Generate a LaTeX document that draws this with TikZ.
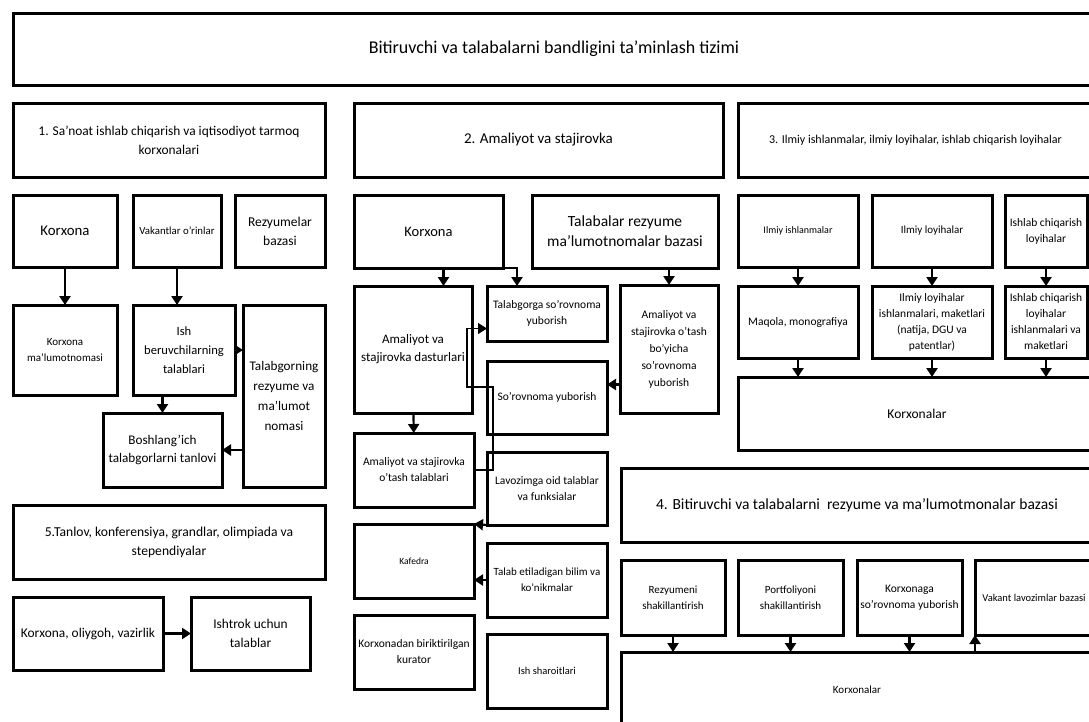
\documentclass[tikz,border=0pt]{standalone}
\usepackage{fontspec}
\setmainfont{Carlito}
\usetikzlibrary{positioning}
\usetikzlibrary{arrows.meta}
\tikzset{
  box/.style={draw, line width=3pt, align=center, inner sep=2pt, outer sep=0pt, anchor=north west},
  wh/.style 2 args={minimum width=#1pt, minimum height=#2pt},
  fsz/.style 2 args={font=\fontsize{#1}{#2}\selectfont},
  arr/.style={line width=2.2pt, -{Triangle[width=11pt,length=9pt]}},
}
\begin{document}
\begin{tikzpicture}[x=1pt, y=-1pt]
    \useasboundingbox (0,0) rectangle (1089,721);
    \clip (0,0) rectangle (1089,721);
    \node[box, wh={1082}{72}, fsz={18}{22}] (t0) at (13,13) {Bitiruvchi va talabalarni bandligini ta'minlash tizimi};
    % 1
    \node[box, wh={312}{74}, fsz={13.4}{19}] (h1) at (13,103) {1. Sa'noat ishlab chiqarish va iqtisodiyot tarmoq\\korxonalari};
    \node[box, wh={104}{72}, fsz={14.8}{19}, below right=18pt and 0pt of h1.south west] (k1) {Korxona};
    \node[box, wh={88}{72}, fsz={10.8}{15}, below right=0pt and 16pt of k1.north east] (v1) {Vakantlar o'rinlar};
    \node[box, wh={90}{72}, fsz={13.5}{19}, below right=0pt and 14pt of v1.north east] (r1) {Rezyumelar\\bazasi};
    \node[box, wh={104}{90}, fsz={11}{16}, below right=38pt and 0pt of k1.south west] (m1) {Korxona\\ma'lumotnomasi};
    \node[box, wh={102}{90}, fsz={12.6}{19}, below right=38pt and 0pt of v1.south west] (i1) {Ish\\beruvchilarning\\talablari};
    \node[box, wh={82}{182}, fsz={13.2}{20}, below right=0pt and 8pt of i1.north east] (t1) {Talabgorning\\rezyume va\\ma'lumot\\nomasi};
    \node[box, wh={119}{74}, fsz={13.2}{18}, below right=18pt and -30pt of i1.south west] (b1) {Boshlang'ich\\talabgorlarni tanlovi};
    \path[draw, arr] (k1) -- (m1);
    \path[draw, arr] (v1.south) -- (v1.south |- i1.north);
    \path[draw, arr] (i1.east) -- (i1.east -| t1.west);
    \path[draw, arr] (b1.north |- i1.south) -- (b1.north);
    \path[draw, arr] (t1.west |- b1.east) -- (b1.east);
    % 5
    \node[box, wh={312}{74}, fsz={13.6}{19}] (h5) at (13,505) {5.Tanlov, konferensiya, grandlar, olimpiada va\\stependiyalar};
    \node[box, wh={150}{73}, fsz={13.4}{18}, below right=18pt and 0pt of h5.south west] (k5) {Korxona, oliygoh, vazirlik};
    \node[box, wh={119}{73}, fsz={13.4}{19}, below right=0pt and 28pt of k5.north east] (i5) {Ishtrok uchun\\talablar};
    \path[draw, arr] (k5) -- (i5);
    % 2
    \node[box, wh={369}{74}, fsz={15}{19}] (h2) at (354,103) {2. Amaliyot va stajirovka};
    \node[box, wh={149}{73}, fsz={14.5}{18}, below right=18pt and 0pt of h2.south west] (k2) {Korxona};
    \node[box, wh={186}{73}, fsz={15.5}{20}, below right=0pt and 29pt of k2.north east] (tr2) {Talabalar rezyume\\ma'lumotnomalar bazasi};
    \node[box, wh={118}{127}, fsz={13}{18}, below right=18pt and 0pt of k2.south west] (d2) {Amaliyot va\\stajirovka dasturlari};
    \node[box, wh={120}{55}, fsz={11.5}{16}, below right=0pt and 15pt of d2.north east] (tg2) {Talabgorga so'rovnoma\\yuborish};
    \node[box, wh={98}{128}, fsz={11.5}{17}, below left=17pt and 0pt of tr2.south east] (ob2) {Amaliyot va\\stajirovka o'tash\\bo'yicha\\so'rovnoma\\yuborish};
    \node[box, wh={120}{73}, fsz={11.5}{16}, below right=20pt and 0pt of tg2.south west] (sy2) {So'rovnoma yuborish};
    \node[box, wh={120}{74}, fsz={11.5}{16}, below right=20pt and 0pt of d2.south west] (ot2) {Amaliyot va stajirovka\\o'tash talablari};
    \node[box, wh={120}{73}, fsz={11.5}{16}, below right=18pt and 0pt of sy2.south west] (lv2) {Lavozimga oid talablar\\va funksialar};
    \node[box, wh={120}{74}, fsz={9.5}{14}, below right=17pt and 0pt of ot2.south west] (kf2) {Kafedra};
    \node[box, wh={120}{74}, fsz={11}{16}, below right=18pt and 0pt of lv2.south west] (te2) {Talab etiladigan bilim va\\ko'nikmalar};
    \node[box, wh={120}{74}, fsz={11.5}{16}, below right=17pt and 0pt of kf2.south west] (ku2) {Korxonadan biriktirilgan\\kurator};
    \node[box, wh={120}{74}, fsz={10.5}{15}, below right=17pt and 0pt of te2.south west] (is2) {Ish sharoitlari};
    \path[draw, arr] ([xshift=15pt]k2.south) -- ([xshift=15pt]k2.south |- d2.north);
    \path[draw, arr] (k2.south east) -| ([xshift=-30pt]tg2.north);
    \path[draw, arr] (ob2.north |- tr2.south) -- (ob2.north);
    \path[draw, arr] ([yshift=13pt]sy2.east -| ob2.west) -- ([yshift=13pt]sy2.east);
    \path[draw, arr] (d2) -- (ot2);
    \path[draw, arr, line width=1.2pt] (ot2.east) -- ++(19,0) -- ++(0,-83) -- ++(-26,0) |- ([yshift=-15pt]tg2.west);
    \path[draw, arr] (lv2.south west) -- (kf2.north east);
    \path[draw, arr] (te2.west) -- (te2.west -| kf2.east);
    % 3
    \node[box, wh={355}{74}, fsz={12}{16}] (h3) at (738,103) {3. Ilmiy ishlanmalar, ilmiy loyihalar, ishlab chiqarish loyihalar};
    \node[box, wh={120}{72}, fsz={10}{15}, below right=18pt and 0pt of h3.south west] (il3) {Ilmiy ishlanmalar};
    \node[box, wh={120}{72}, fsz={11}{16}, below right=0pt and 14pt of il3.north east] (lo3) {Ilmiy loyihalar};
    \node[box, wh={82}{72}, fsz={11.5}{16}, below right=0pt and 13pt of lo3.north east] (ic3) {Ishlab chiqarish\\loyihalar};
    \node[box, wh={120}{72}, fsz={11.5}{16}, below right=19pt and 0pt of il3.south west] (mq3) {Maqola, monografiya};
    \node[box, wh={120}{72}, fsz={11.5}{16}, below right=19pt and 0pt of lo3.south west] (li3) {Ilmiy loyihalar\\ishlanmalari, maketlari\\(natija, DGU va\\patentlar)};
    \node[box, wh={82}{72}, fsz={11.5}{16}, below right=19pt and 0pt of ic3.south west] (ii3) {Ishlab chiqarish\\loyihalar\\ishlanmalari va\\maketlari};
    \node[box, wh={358}{73}, fsz={13.5}{18}, below right=19pt and 0pt of mq3.south west] (kx3) {Korxonalar};
    \path[draw, arr] (il3) -- (mq3);
    \path[draw, arr] (lo3) -- (li3);
    \path[draw, arr] (ic3) -- (ii3);
    \path[draw, arr] (mq3.south) -- (mq3.south |- kx3.north);
    \path[draw, arr] (li3.south) -- (li3.south |- kx3.north);
    \path[draw, arr] (ii3.south) -- (ii3.south |- kx3.north);
    % 4
    \node[box, wh={472}{74}, fsz={15.5}{20}] (h4) at (621,468) {4. Bitiruvchi va talabalarni~ rezyume va ma'lumotmonalar bazasi};
    \node[box, wh={104}{75}, fsz={11}{16}, below right=18pt and 0pt of h4.south west] (rz4) {Rezyumeni\\shakillantirish};
    \node[box, wh={105}{75}, fsz={11}{16}, below right=0pt and 13pt of rz4.north east] (pf4) {Portfoliyoni\\shakillantirish};
    \node[box, wh={105}{75}, fsz={11.5}{16}, below right=0pt and 14pt of pf4.north east] (ks4) {Korxonaga\\so'rovnoma yuborish};
    \node[box, wh={118}{75}, fsz={10.5}{15}, below right=0pt and 13pt of ks4.north east] (vk4) {Vakant lavozimlar bazasi};
    \node[box, wh={472}{76}, fsz={11}{16}, below right=17pt and 0pt of rz4.south west] (kx4) {Korxonalar};
    \path[draw, arr] (rz4.south) -- (rz4.south |- kx4.north);
    \path[draw, arr] (pf4.south) -- (pf4.south |- kx4.north);
    \path[draw, arr] (ks4.south) -- (ks4.south |- kx4.north);
    \path[draw, arr] (vk4.south west |- kx4.north) -- (vk4.south west);
\end{tikzpicture}
\end{document}
